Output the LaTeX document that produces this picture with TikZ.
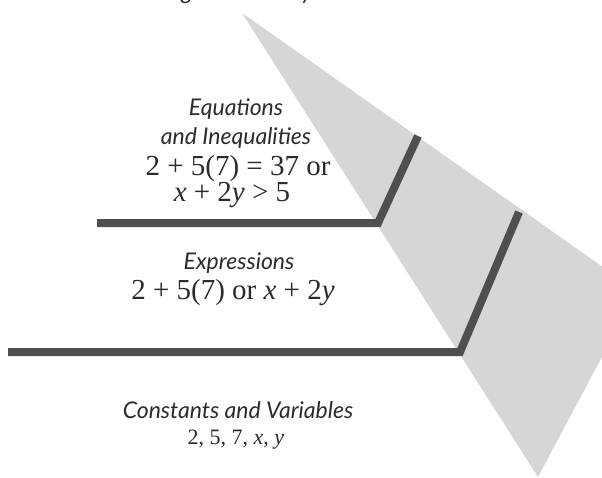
\documentclass[tikz,border=0pt]{standalone}
\usepackage{fontspec}
\setmainfont{Liberation Serif}
\newfontfamily\headfont{Lato}

\definecolor{panegray}{HTML}{D6D6D6}
\definecolor{bargray}{HTML}{4F4F4F}
\definecolor{inkgray}{HTML}{2B2B2B}

\tikzset{
  head/.style={font=\headfont\itshape\fontsize{23}{27}\selectfont,
    text=inkgray, anchor=base, inner sep=0pt},
  expr/.style={font=\fontsize{29}{33}\selectfont,
    text=inkgray, anchor=base, inner sep=0pt},
  smallexpr/.style={expr, font=\fontsize{22}{26}\selectfont},
  levelbar/.style={draw=bargray, line width=8pt, line join=miter}
}

\begin{document}
\begin{tikzpicture}[x=1pt,y=-1pt]
  \useasboundingbox (0,0) rectangle (602,477);

  \begin{scope}
    \clip (0,0) rectangle (602,477);
    % shaded side of the pyramid
    \fill[panegray] (242,13) -- (637,291) -- (538,477) -- cycle;
    % cut-off title above
    \node[head] (ttlg) at (187,-1) {g};
    \node[head] (ttly) at (307,-1) {y};
  \end{scope}

  % level dividers
  \draw[levelbar] (97,223) -- (378,223) -- (418,136);
  \draw[levelbar] (8,352) -- (460,352) -- (519,212);

  % top level
  \node[head] (eqn) at (236,115) {Equations};
  \node[head] (ineq) at (236,144) {and Inequalities};
  \node[expr] (eqex) at (238,175) {2 + 5(7) = 37 or};
  \node[expr] (inex) at (232,201) {\textit{x}\/ + 2\textit{y}\/ > 5};

  % middle level
  \node[head] (expr) at (239,269) {Expressions};
  \node[expr] (exex) at (233,299) {2 + 5(7) or \textit{x}\/ + 2\textit{y}};

  % bottom level
  \node[head] (const) at (238,418) {Constants and Variables};
  \node[smallexpr] (coex) at (236,444) {2, 5, 7, \textit{x}, \textit{y}};
\end{tikzpicture}
\end{document}
